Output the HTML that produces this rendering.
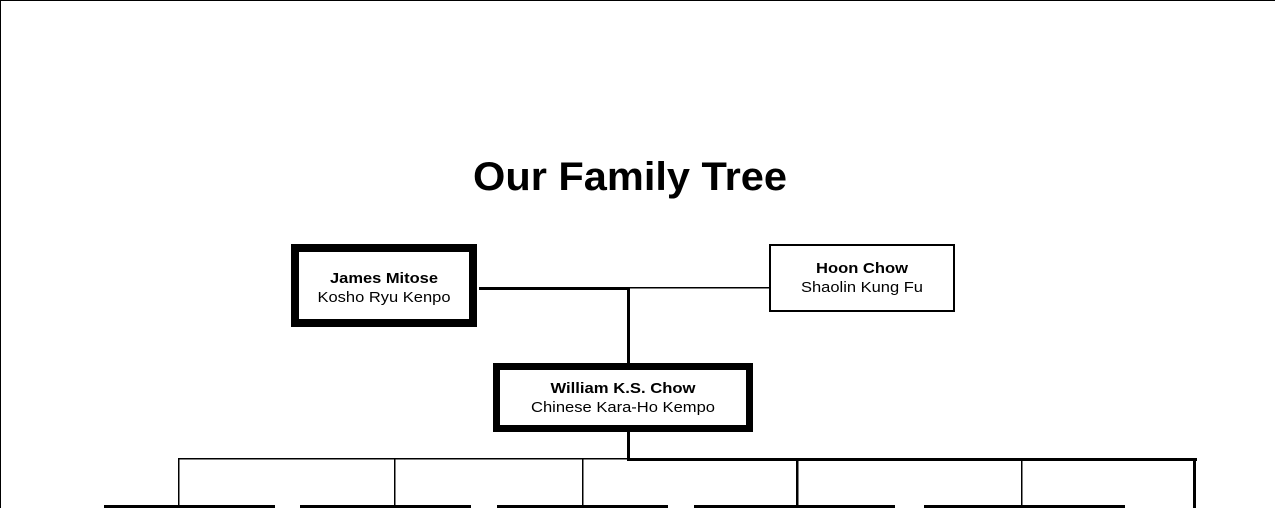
<!DOCTYPE html>
<html><head><meta charset="utf-8"><style>
html,body{margin:0;padding:0;background:#fff;width:1275px;height:508px;overflow:hidden}
svg{display:block}
text{font-family:"Liberation Sans",Arial,sans-serif;fill:#000}
</style></head><body>
<svg width="1275" height="508" viewBox="0 0 1275 508" xmlns="http://www.w3.org/2000/svg">
<line x1="0" y1="0.5" x2="1275" y2="0.5" stroke="#000" stroke-width="1"/>
<line x1="0.5" y1="0" x2="0.5" y2="508" stroke="#000" stroke-width="1"/>
<text x="630" y="190" font-size="40" font-weight="bold" text-anchor="middle" textLength="314" lengthAdjust="spacingAndGlyphs">Our Family Tree</text>

<!-- James box -->
<rect x="295" y="248" width="178" height="75" fill="#fff" stroke="#000" stroke-width="8"/>
<text x="384" y="283" font-size="15" font-weight="bold" text-anchor="middle" textLength="108" lengthAdjust="spacingAndGlyphs">James Mitose</text>
<text x="384" y="302" font-size="15" text-anchor="middle" textLength="133" lengthAdjust="spacingAndGlyphs">Kosho Ryu Kenpo</text>

<!-- Hoon box -->
<rect x="770" y="245" width="184" height="66" fill="#fff" stroke="#000" stroke-width="2"/>
<text x="862" y="273" font-size="15" font-weight="bold" text-anchor="middle" textLength="92" lengthAdjust="spacingAndGlyphs">Hoon Chow</text>
<text x="862" y="292" font-size="15" text-anchor="middle" textLength="122" lengthAdjust="spacingAndGlyphs">Shaolin Kung Fu</text>

<!-- William box -->
<rect x="496.5" y="366.5" width="253" height="62" fill="#fff" stroke="#000" stroke-width="7"/>
<text x="623" y="393" font-size="15" font-weight="bold" text-anchor="middle" textLength="145" lengthAdjust="spacingAndGlyphs">William K.S. Chow</text>
<text x="623" y="412" font-size="15" text-anchor="middle" textLength="184" lengthAdjust="spacingAndGlyphs">Chinese Kara-Ho Kempo</text>

<!-- connectors top -->
<rect x="479" y="287" width="151" height="3" fill="#000"/>
<rect x="628" y="287" width="141" height="1.5" fill="#000"/>
<rect x="627" y="287" width="3" height="76" fill="#000"/>
<rect x="627" y="432" width="3" height="28" fill="#000"/>

<!-- bottom bus -->
<rect x="178" y="458" width="451" height="1.5" fill="#000"/>
<rect x="627" y="458" width="570" height="3" fill="#000"/>
<rect x="178" y="458" width="1.5" height="48" fill="#000"/>
<rect x="394" y="458" width="1.5" height="48" fill="#000"/>
<rect x="582" y="458" width="1.5" height="48" fill="#000"/>
<rect x="796" y="458" width="2.5" height="48" fill="#000"/>
<rect x="1021" y="458" width="1.5" height="48" fill="#000"/>
<rect x="1193" y="458" width="3" height="50" fill="#000"/>

<!-- bottom box tops -->
<rect x="104" y="505" width="171" height="3" fill="#000"/>
<rect x="300" y="505" width="171" height="3" fill="#000"/>
<rect x="497" y="505" width="171" height="3" fill="#000"/>
<rect x="694" y="505" width="201" height="3" fill="#000"/>
<rect x="924" y="505" width="201" height="3" fill="#000"/>
</svg>
</body></html>
